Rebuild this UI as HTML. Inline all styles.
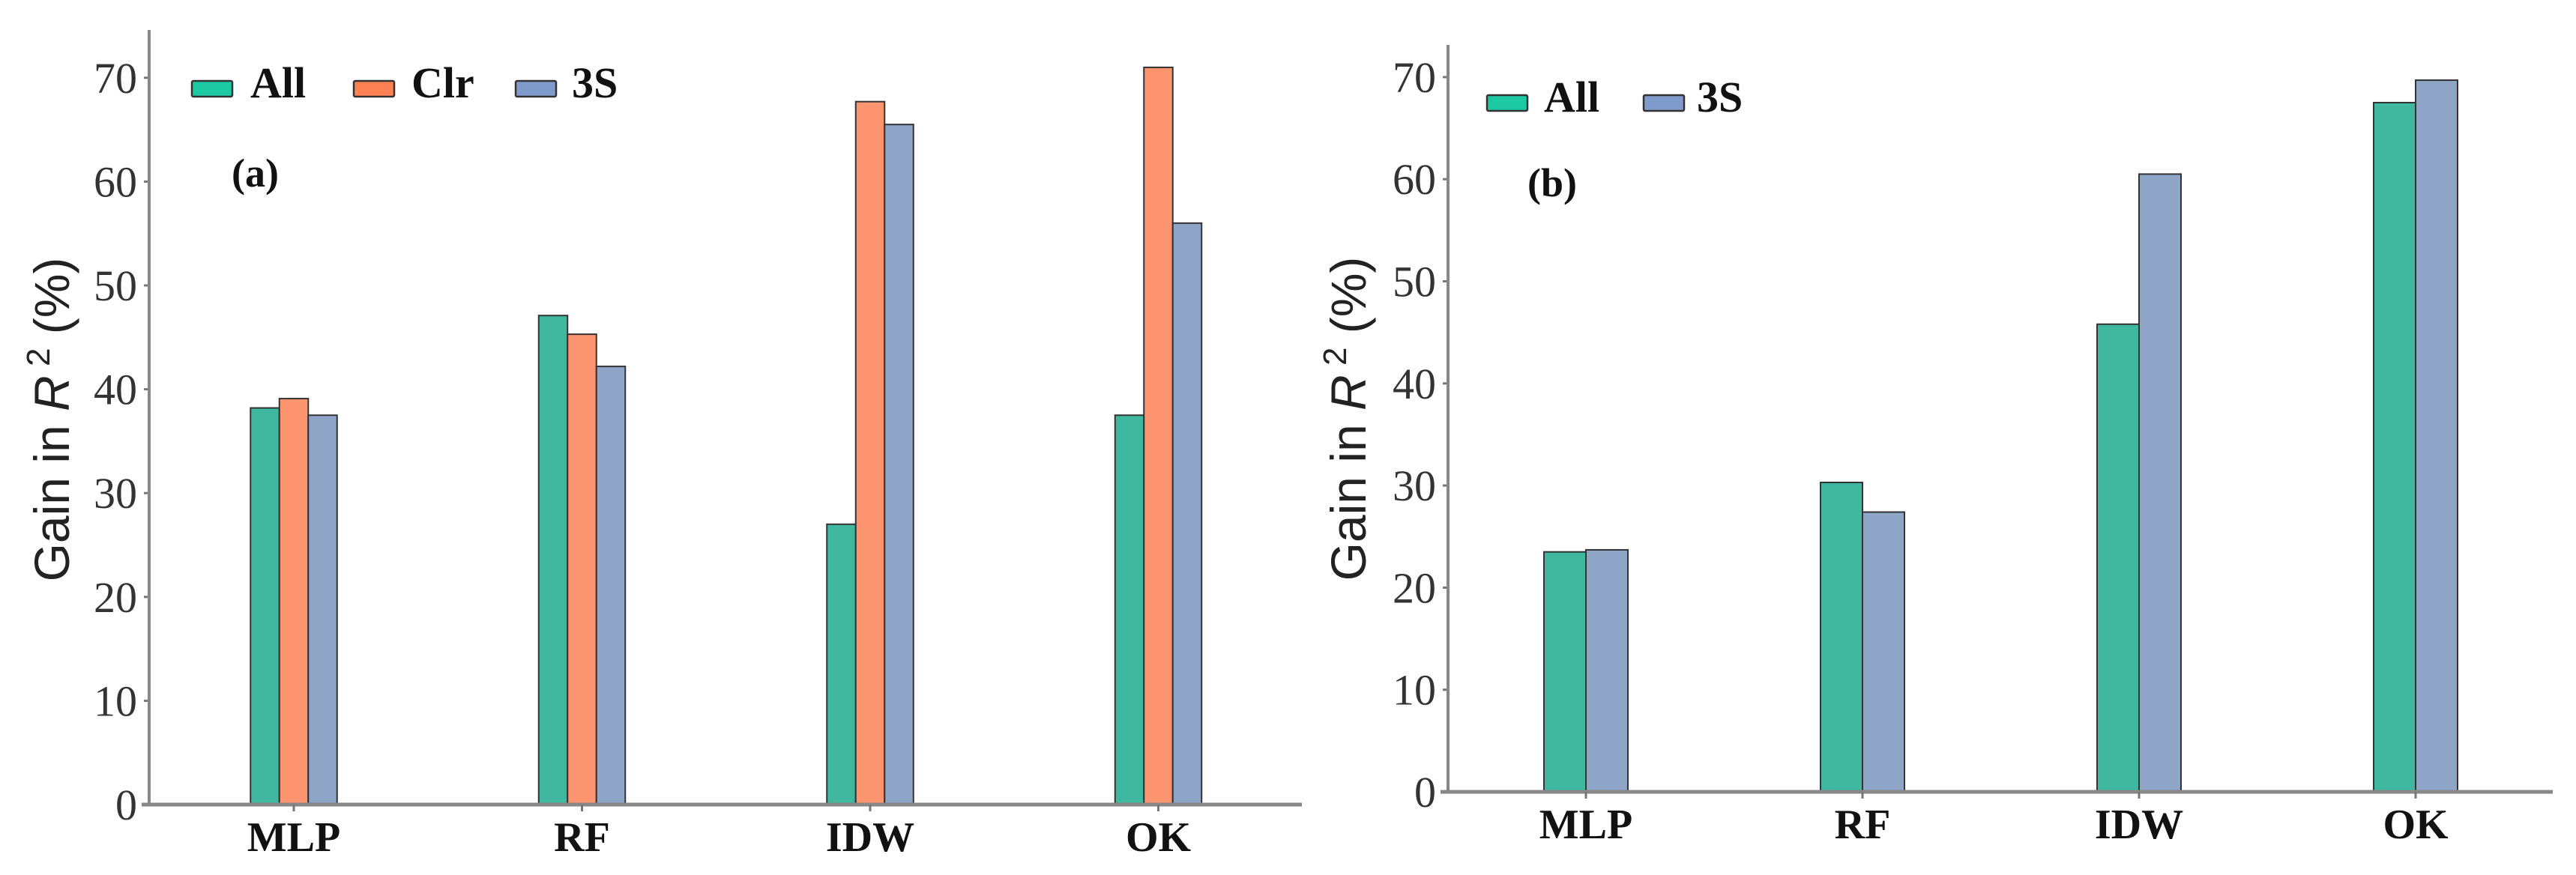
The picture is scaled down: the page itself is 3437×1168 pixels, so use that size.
<!DOCTYPE html>
<html><head><meta charset="utf-8"><style>
html,body{margin:0;padding:0;background:#fff;}
svg{display:block;}
.tick{font-family:"Liberation Serif",serif;font-size:58px;fill:#333;}
.cat{font-family:"Liberation Serif",serif;font-size:56px;font-weight:bold;fill:#111;}
.leg{font-family:"Liberation Serif",serif;font-size:58px;font-weight:bold;fill:#111;}
.ttl{font-family:"Liberation Sans",sans-serif;font-size:66px;fill:#222;}
.pan{font-family:"Liberation Serif",serif;font-size:54px;font-weight:bold;fill:#111;}
</style></head><body>
<svg id="chart" width="3437" height="1168" viewBox="0 0 3437 1168" xmlns="http://www.w3.org/2000/svg"></svg>
<script>
const categories = ["MLP","RF","IDW","OK"];
const aAll = [38.2, 47.1, 27.0, 37.5];
const aClr = [39.1, 45.3, 67.7, 71.0];
const a3S  = [37.5, 42.2, 65.5, 56.0];
const bAll = [23.5, 30.3, 45.8, 67.5];
const b3S  = [23.7, 27.4, 60.5, 69.7];
const yTicks = [0,10,20,30,40,50,60,70];

const NS = "http://www.w3.org/2000/svg";
const svg = document.getElementById("chart");
function mk(tag, attrs, parent, text){
  const e = document.createElementNS(NS, tag);
  for (const k in attrs) e.setAttribute(k, attrs[k]);
  if (text !== undefined) e.textContent = text;
  (parent || svg).appendChild(e);
  return e;
}
const fills = {All:"#40b8a0", Clr:"#fc9470", "3S":"#8fa5c8"};
const legFills = {All:"#1dc9a2", Clr:"#ff8052", "3S":"#7f9acb"};

function panel(p){
  const g = mk("g", {});
  
  
  const y = v => p.base - v * p.unit;
  const x = i => p.x0 + i * p.step;
  const t = mk("text", {class:"ttl", x:0, y:0, "text-anchor":"middle", transform:`translate(${p.titleX},${p.titleY}) rotate(-90)`}, g);
  
  
  t.appendChild(document.createTextNode("Gain in "));
  const ts = document.createElementNS(NS, "tspan"); ts.setAttribute("font-style","italic"); ts.textContent="R"; t.appendChild(ts);
  const ts2 = document.createElementNS(NS, "tspan"); ts2.setAttribute("dy","-26"); ts2.setAttribute("font-size","44"); ts2.textContent=" 2"; t.appendChild(ts2);
  const ts3 = document.createElementNS(NS, "tspan"); ts3.setAttribute("dy","26"); ts3.textContent=" (%)"; t.appendChild(ts3);
  yTicks.forEach(v => {
    const tl = mk("text", {class:"tick", x:p.axisX - 16, y:y(v) + 20, "text-anchor":"end"}, g, String(v));
    
    
    mk("line", {x1:p.axisX - 7, x2:p.axisX, y1:y(v), y2:y(v), stroke:"#777", "stroke-width":3}, g);
  });
  const n = p.series.length;
  p.series.forEach((s, si) => {
    s.vals.forEach((v, i) => {
      const bx = x(i) - n * p.bw / 2 + si * p.bw;
      const r = mk("rect", {x:bx, y:y(v), width:p.bw, height:p.base - y(v), fill:fills[s.name], stroke:"#333", "stroke-width":2}, g);
      
      
    });
  });
  const ya = mk("line", {x1:p.axisX, x2:p.axisX, y1:p.top, y2:p.base + 2, stroke:"#888", "stroke-width":4}, g);
  
  
  const xa = mk("line", {x1:p.axisX - 10, x2:p.xEnd, y1:p.base, y2:p.base, stroke:"#888", "stroke-width":5}, g);
  
  
  categories.forEach((c, i) => {
    mk("line", {x1:x(i), x2:x(i), y1:p.base, y2:p.base + 9, stroke:"#777", "stroke-width":3}, g);
    const cl = mk("text", {class:"cat", x:x(i), y:p.base + 62, "text-anchor":"middle"}, g, c);
    
    
  });
  p.legend.forEach(l => {
    const sw = mk("rect", {x:l.sx, y:p.legY, width:54, height:21, fill:legFills[l.name], stroke:"#333", "stroke-width":2.5, rx:2}, g);
    
    
    const lt = mk("text", {class:"leg", x:l.tx, y:p.legY + 22}, g, l.name);
    
    
  });
  const pl = mk("text", {class:"pan", x:p.panX, y:p.panY}, g, p.label);
  
  
}

panel({id:"a", axisX:199, top:40, base:1074, unit:13.86, x0:392, step:384.5, bw:38.5, xEnd:1737,
  titleX:92, titleY:560,
  series:[{name:"All",vals:aAll},{name:"Clr",vals:aClr},{name:"3S",vals:a3S}],
  legY:108, legend:[{name:"All",sx:256,tx:334},{name:"Clr",sx:472,tx:549},{name:"3S",sx:688,tx:763}],
  label:"(a)", panX:309, panY:249});

panel({id:"b", axisX:1932, top:60, base:1057, unit:13.63, x0:2116, step:369, bw:56, xEnd:3406,
  titleX:1822, titleY:559,
  series:[{name:"All",vals:bAll},{name:"3S",vals:b3S}],
  legY:127, legend:[{name:"All",sx:1984,tx:2060},{name:"3S",sx:2193,tx:2264}],
  label:"(b)", panX:2038, panY:262});
</script>
</body></html>
